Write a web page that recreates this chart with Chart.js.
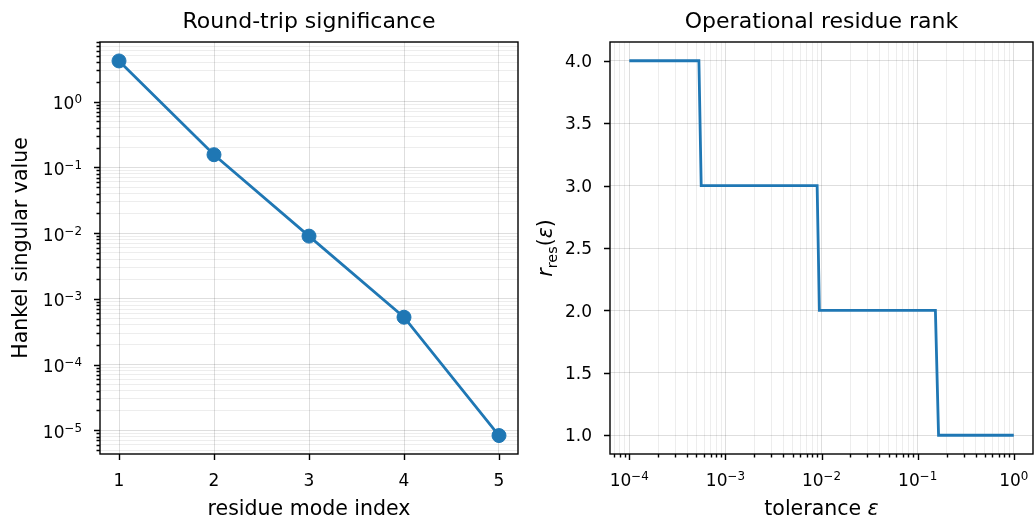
<!DOCTYPE html>
<html>
<head>
<meta charset="utf-8">
<script src="https://cdn.jsdelivr.net/npm/chart.js@4.4.1/dist/chart.umd.min.js"></script>
<style>
  html, body { margin: 0; padding: 0; background: #fff; }
  #wrap { position: relative; width: 1034px; height: 520px; overflow: hidden; }
  #wrap canvas { position: absolute; top: 0; }
</style>
</head>
<body>
<div id="wrap">
  <canvas id="left" width="530" height="520" style="left:0"></canvas>
  <canvas id="right" width="504" height="520" style="left:530px"></canvas>
</div>
<script>
// ---- data ----
const modeIndex = [1, 2, 3, 4, 5];
const hankelSV = [4.17, 0.156, 0.0090, 5.25e-4, 8.3e-6];

const tolerance = [1e-4, 5.3e-4, 5.6e-4, 9.0e-3, 9.5e-3, 0.153, 0.165, 1.0];
const residueRank = [4, 4, 3, 3, 2, 2, 1, 1];

const modeTicks = [1, 2, 3, 4, 5];
const rankTicks = [1.0, 1.5, 2.0, 2.5, 3.0, 3.5, 4.0];

// axis limits
const modeLimits = [0.8, 5.2];
const svLimits = [4.35e-6, 8.1];
const tolLimits = [6.3e-5, 1.585];
const rankLimits = [0.85, 4.15];

const FONT = '"DejaVu Sans", "Liberation Sans", sans-serif';
const BLUE = '#1f77b4';
const GRID_MAJOR = 'rgba(0,0,0,0.13)';
const GRID_MINOR = 'rgba(0,0,0,0.07)';
const TICK_SIZE = 17;

function isDecade(v) {
    const l = Math.log10(v);
    return Math.abs(l - Math.round(l)) < 1e-6;
}

// 1..9 x 10^k inside the range, decades flagged major
function logTicks(min, max) {
    const out = [];
    for (let e = Math.floor(Math.log10(min)); e <= Math.ceil(Math.log10(max)); e++) {
        for (let m = 1; m < 10; m++) {
            const v = m * Math.pow(10, e);
            if (v >= min * 0.999 && v <= max * 1.001) out.push({ value: v, major: m === 1 });
        }
    }
    return out;
}

function fontStr(size, italic) {
    return (italic ? 'italic ' : '') + size + 'px ' + FONT;
}

// draw a row of text pieces; align 'center' or 'right' around x
function drawParts(ctx, parts, x0, baseY, align) {
    let total = 0;
    const widths = parts.map(p => {
        ctx.font = fontStr(p.size, p.italic);
        const w = ctx.measureText(p.text).width;
        total += w;
        return w;
    });
    let x = align === 'right' ? x0 - total : x0 - total / 2;
    ctx.textAlign = 'left';
    ctx.textBaseline = 'alphabetic';
    parts.forEach((p, i) => {
        ctx.font = fontStr(p.size, p.italic);
        ctx.fillText(p.text, x, baseY + (p.dy || 0));
        x += widths[i];
    });
}

// tick label pieces: "10" with raised exponent on log axes, plain text otherwise
function labelParts(v, log, digits) {
    if (!log) return [{ text: v.toFixed(digits), size: TICK_SIZE }];
    const e = Math.round(Math.log10(v));
    const exp = e < 0 ? '\u2212' + (-e) : String(e);
    return [
        { text: '10', size: TICK_SIZE },
        { text: exp, size: TICK_SIZE * 0.7, dy: -6 }
    ];
}

/* =========================
   TITLES, FRAME, TICKS, LABELS
========================= */
function makeDecor(cfg) {
    return {
        id: 'decor',
        afterDraw(chart) {
            const { ctx, chartArea: a } = chart;
            const cx = (a.left + a.right) / 2;
            const cy = (a.top + a.bottom) / 2;
            const sx = chart.scales.x;
            const sy = chart.scales.y;
            ctx.save();
            ctx.fillStyle = '#000';

            drawParts(ctx, [{ text: cfg.title, size: 22 }], cx, 28);
            drawParts(ctx, cfg.xTitle, cx, 515);

            ctx.save();
            ctx.translate(cfg.yTitleX, cy);
            ctx.rotate(-Math.PI / 2);
            drawParts(ctx, cfg.yTitle, 0, 0);
            ctx.restore();

            // tick labels (major ticks only)
            sx.ticks.filter(t => t.major).forEach(t => {
                drawParts(ctx, labelParts(t.value, cfg.logX, cfg.xDigits),
                          sx.getPixelForValue(t.value), 485.5, 'center');
            });
            sy.ticks.filter(t => t.major).forEach(t => {
                const off = cfg.logY ? 7.6 : 6.2;
                drawParts(ctx, labelParts(t.value, cfg.logY, cfg.yDigits),
                          a.left - 18, sy.getPixelForValue(t.value) + off, 'right');
            });

            // spines
            ctx.strokeStyle = '#000';
            ctx.lineWidth = 1.4;
            ctx.strokeRect(a.left, a.top, a.right - a.left, a.bottom - a.top);

            // tick marks (minor ones shorter)
            ctx.lineWidth = 1.4;
            ctx.beginPath();
            sx.ticks.forEach(t => {
                const p = Math.round(sx.getPixelForValue(t.value)) + 0.5;
                const len = t.major ? 6 : 3.5;
                ctx.moveTo(p, a.bottom);
                ctx.lineTo(p, a.bottom + len);
            });
            sy.ticks.forEach(t => {
                const p = Math.round(sy.getPixelForValue(t.value)) + 0.5;
                const len = t.major ? 6 : 3.5;
                ctx.moveTo(a.left, p);
                ctx.lineTo(a.left - len, p);
            });
            ctx.stroke();
            ctx.restore();
        }
    };
}

const gridColor = c => (c.tick && c.tick.major ? GRID_MAJOR : GRID_MINOR);

function axis(type, limits, ticks, fit) {
    return {
        type: type,
        min: limits[0],
        max: limits[1],
        afterBuildTicks: s => { s.ticks = ticks; },
        afterFit: fit,
        grid: { color: gridColor, drawTicks: false },
        border: { display: false },
        ticks: { display: false }
    };
}

/* =========================
   LEFT: HANKEL SINGULAR VALUES
========================= */
new Chart(document.getElementById('left'), {
    type: 'line',
    data: {
        datasets: [{
            data: modeIndex.map((m, i) => ({ x: m, y: hankelSV[i] })),
            borderColor: BLUE,
            backgroundColor: BLUE,
            borderWidth: 2.8,
            pointRadius: 7,
            pointBorderWidth: 1,
            pointBorderColor: BLUE,
            pointBackgroundColor: BLUE,
            tension: 0
        }]
    },
    options: {
        responsive: false,
        animation: false,
        devicePixelRatio: 1,
        layout: { padding: { top: 42, right: 12, bottom: 0, left: 0 } },
        plugins: { legend: { display: false }, tooltip: { enabled: false } },
        scales: {
            x: axis('linear', modeLimits, modeTicks.map(v => ({ value: v, major: true })),
                    s => { s.height = 66; }),
            y: axis('logarithmic', svLimits, logTicks(svLimits[0], svLimits[1]),
                    s => { s.width = 100; })
        }
    },
    plugins: [makeDecor({
        title: 'Round-trip significance',
        xTitle: [{ text: 'residue mode index', size: 20.5 }],
        yTitle: [{ text: 'Hankel singular value', size: 20.5 }],
        yTitleX: 26.7,
        xDigits: 0,
        logY: true
    })]
});

/* =========================
   RIGHT: OPERATIONAL RANK
========================= */
new Chart(document.getElementById('right'), {
    type: 'line',
    data: {
        datasets: [{
            data: tolerance.map((t, i) => ({ x: t, y: residueRank[i] })),
            borderColor: BLUE,
            borderWidth: 2.8,
            pointRadius: 0,
            tension: 0
        }]
    },
    options: {
        responsive: false,
        animation: false,
        devicePixelRatio: 1,
        layout: { padding: { top: 42, right: 1, bottom: 0, left: 0 } },
        plugins: { legend: { display: false }, tooltip: { enabled: false } },
        scales: {
            x: axis('logarithmic', tolLimits, logTicks(tolLimits[0], tolLimits[1]),
                    s => { s.height = 66; }),
            y: axis('linear', rankLimits, rankTicks.map(v => ({ value: v, major: true })),
                    s => { s.width = 80; })
        }
    },
    plugins: [makeDecor({
        title: 'Operational residue rank',
        xTitle: [{ text: 'tolerance ', size: 20.5 }, { text: '\u03B5', size: 20.5, italic: true }],
        yTitle: [
            { text: 'r', size: 20.5, italic: true },
            { text: 'res', size: 14.4, dy: 5 },
            { text: '(', size: 20.5 },
            { text: '\u03B5', size: 20.5, italic: true },
            { text: ')', size: 20.5 }
        ],
        yTitleX: 22,
        yDigits: 1,
        logX: true
    })]
});
</script>
</body>
</html>
